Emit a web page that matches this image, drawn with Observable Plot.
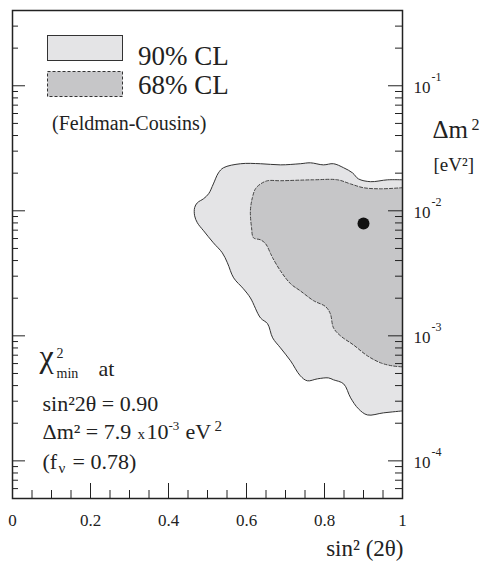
<!DOCTYPE html>
<html><head><meta charset="utf-8">
<script src="https://cdn.jsdelivr.net/npm/d3@7"></script>
<script src="https://cdn.jsdelivr.net/npm/@observablehq/plot@0.6"></script>
<style>
html,body{margin:0;padding:0;background:#fff;font-family:"Liberation Serif","DejaVu Serif",serif;}
#wrap{position:relative;width:489px;height:563px;}
#wrap svg{display:block;}
#legend{position:absolute;left:0;top:0;pointer-events:none;}
</style></head><body><div id="wrap"></div>
<script>
// 90% CL contour (sin^2 2θ, Δm^2 [eV^2])
const cl90_sin2 = [1.0, 0.962, 0.918, 0.887, 0.872, 0.849, 0.823, 0.797, 0.764, 0.738, 0.687, 0.636, 0.585, 0.541, 0.528, 0.515, 0.503, 0.490, 0.474, 0.467, 0.467, 0.474, 0.490, 0.515, 0.538, 0.551, 0.567, 0.592, 0.610, 0.636, 0.654, 0.667, 0.687, 0.713, 0.738, 0.756, 0.782, 0.810, 0.823, 0.849, 0.867, 0.887, 0.910, 0.951, 1.0];
const cl90_dm2 = [0.0177, 0.0177, 0.0171, 0.0180, 0.0201, 0.0221, 0.0238, 0.0233, 0.0242, 0.0238, 0.0233, 0.0238, 0.0238, 0.0221, 0.0201, 0.0164, 0.0137, 0.0125, 0.0116, 0.0106, 0.00912, 0.00802, 0.00692, 0.00555, 0.00461, 0.00384, 0.00291, 0.00238, 0.00201, 0.00139, 0.00125, 0.000964, 0.000802, 0.000631, 0.000479, 0.000437, 0.000453, 0.000461, 0.000445, 0.000413, 0.000319, 0.000261, 0.000233, 0.000242, 0.000251];
// 68% CL contour
const cl68_sin2 = [1.0, 0.944, 0.900, 0.867, 0.833, 0.772, 0.687, 0.654, 0.636, 0.623, 0.615, 0.610, 0.613, 0.618, 0.636, 0.649, 0.662, 0.667, 0.687, 0.713, 0.738, 0.772, 0.803, 0.815, 0.823, 0.841, 0.874, 0.910, 0.944, 0.974, 1.0];
const cl68_dm2 = [0.0153, 0.0150, 0.0153, 0.0164, 0.0177, 0.0177, 0.0174, 0.0174, 0.0164, 0.0150, 0.0127, 0.0100, 0.00731, 0.00608, 0.00586, 0.00545, 0.00453, 0.00421, 0.00331, 0.00261, 0.00229, 0.00191, 0.00171, 0.00150, 0.00116, 0.00100, 0.000847, 0.000692, 0.000608, 0.000575, 0.000565];
// best fit
const bestSin2 = [0.90];
const bestDm2 = [7.9e-3];
// axes
const xTickValues = [0, 0.2, 0.4, 0.6, 0.8, 1];
const xTickLabels = ["0", "0.2", "0.4", "0.6", "0.8", "1"];
const yDecades = [1e-1, 1e-2, 1e-3, 1e-4];
const yExponents = ["-1", "-2", "-3", "-4"];
const legendLabels = ["90% CL", "68% CL"];
const legendNote = "(Feldman-Cousins)";

const F = "Liberation Serif, DejaVu Serif, serif";
const INK = "#222";
const LIGHT = "#e4e4e6", DARK = "#c6c6c8";

const cl90 = cl90_sin2.map((x, i) => ({x, y: cl90_dm2[i]}));
const cl68 = cl68_sin2.map((x, i) => ({x, y: cl68_dm2[i]}));
const best = bestSin2.map((x, i) => ({x, y: bestDm2[i]}));

const yMinor = [];
for (let e = -5; e <= -1; e++) for (let k = 2; k <= 9; k++) {
  const v = k * Math.pow(10, e);
  if (v >= 5e-5 && v <= 0.4) yMinor.push(v);
}
const xMinor = d3.range(0, 21).map(i => i * 0.05).filter(v => Math.abs(v * 5 - Math.round(v * 5)) > 1e-6);

const FW = 390, FH = 488;
function lab(str, x, base, size, extra = {}) {
  return Plot.text([str], {frameAnchor: "top-left", dx: x - 12, dy: base - 10, text: d => d,
    fontSize: size, fontFamily: F, lineAnchor: "bottom", textAnchor: "start", fill: INK, ...extra});
}

const chart = Plot.plot({
  width: 489, height: 563,
  marginLeft: 12, marginRight: 87, marginTop: 10, marginBottom: 65,
  style: {background: "white", fontFamily: F},
  x: {domain: [0, 1], axis: null},
  y: {type: "log", domain: [5e-5, 0.4], axis: null},
  marks: [
    Plot.line(cl90, {x: "x", y: "y", fill: LIGHT, stroke: "#333", strokeWidth: 1, curve: "catmull-rom"}),
    Plot.line(cl68, {x: "x", y: "y", fill: DARK, stroke: "#444", strokeWidth: 1, strokeDasharray: "3,2", curve: "catmull-rom"}),
    Plot.dot(best, {x: "x", y: "y", r: 6, fill: "#111", stroke: "none"}),
    // left ticks
    Plot.ruleY(yDecades, {insetRight: FW - 13, stroke: INK, strokeWidth: 1}),
    Plot.ruleY(yMinor, {insetRight: FW - 6, stroke: INK, strokeWidth: 1}),
    // right ticks
    Plot.ruleY(yDecades, {insetLeft: FW - 14, stroke: INK, strokeWidth: 1}),
    Plot.ruleY(yMinor, {insetLeft: FW - 7, stroke: INK, strokeWidth: 1}),
    // bottom ticks
    Plot.ruleX(xTickValues, {insetTop: FH - 15, stroke: INK, strokeWidth: 1}),
    Plot.ruleX(xMinor, {insetTop: FH - 8, stroke: INK, strokeWidth: 1}),
    Plot.frame({stroke: INK, strokeWidth: 1.5}),
    // x tick labels
    Plot.text(xTickValues, {x: d => d, frameAnchor: "bottom", dy: 27, lineAnchor: "bottom",
      text: (d, i) => xTickLabels[i], fontSize: 17, fontFamily: F, fill: INK}),
    // y tick labels (right)
    Plot.text(yDecades, {y: d => d, frameAnchor: "right", dx: 11, dy: 7, lineAnchor: "bottom", textAnchor: "start",
      text: () => "10", fontSize: 17, fontFamily: F, fill: INK}),
    Plot.text(yDecades, {y: d => d, frameAnchor: "right", dx: 29, dy: -5, lineAnchor: "bottom", textAnchor: "start",
      text: (d, i) => yExponents[i], fontSize: 12, fontFamily: F, fill: INK}),
    // axis titles
    lab("sin² (2θ)", 403, 555, 23, {textAnchor: "end"}),
    lab("Δm", 432, 137, 25),
    lab("2", 471, 129, 16),
    lab("[eV²]", 433, 170, 19),
    // annotation
    lab("χ", 39, 366, 32),
    lab("2", 56, 357, 14),
    lab("min", 56, 377, 14),
    lab("at", 98, 375, 22),
    lab("sin²2θ = 0.90", 42, 410, 22),
    lab("Δm² = 7.9", 42, 438, 22),
    lab("x", 137, 438, 15),
    lab("10", 146, 438, 22),
    lab("-3", 168, 429, 13),
    lab("eV", 185, 438, 22),
    lab("2", 214, 430, 15),
    lab("(f", 42, 468, 22),
    lab("ν", 58, 472, 15),
    lab("= 0.78)", 72, 468, 22)
  ]
});
const wrap = document.getElementById("wrap");
wrap.appendChild(chart);

// legend overlay
const lg = d3.select(wrap).append("svg").attr("id", "legend").attr("width", 489).attr("height", 563);
const fills = [LIGHT, DARK], dashes = [null, "3,2"];
legendLabels.forEach((t, i) => {
  lg.append("rect").attr("x", 47.5).attr("y", 35.5 + i * 36).attr("width", 75).attr("height", 25)
    .attr("fill", fills[i]).attr("stroke", "#333").attr("stroke-width", 1).attr("stroke-dasharray", dashes[i]);
  lg.append("text").attr("x", 138).attr("y", 65 + i * 28.5).attr("font-family", F).attr("font-size", 27)
    .attr("fill", INK).text(t);
});
lg.append("text").attr("x", 52).attr("y", 130).attr("font-family", F).attr("font-size", 20).attr("fill", INK).text(legendNote);
</script>
</body></html>
